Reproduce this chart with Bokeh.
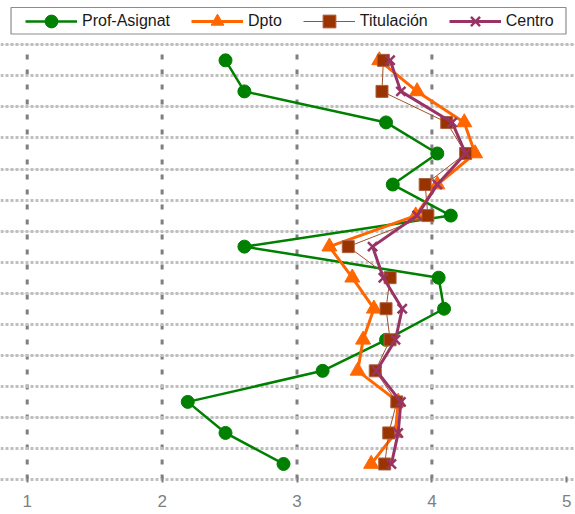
from bokeh.plotting import figure
from bokeh.models import (Range1d, FixedTicker, Legend, LegendItem, ColumnDataSource,
                          BoxAnnotation, Grid)
from bokeh.embed import file_html
from bokeh.resources import INLINE

# ---- data ----
series_names = ["Prof-Asignat", "Dpto", "Titulación", "Centro"]
prof_asignat = [2.47, 2.61, 3.66, 4.04, 3.71, 4.14, 2.61, 4.05, 4.09, 3.66, 3.19, 2.19, 2.47, 2.90]
dpto = [3.61, 3.89, 4.24, 4.32, 4.04, 3.88, 3.24, 3.41, 3.57, 3.49, 3.45, 3.75, 3.73, 3.55]
titulacion = [3.64, 3.63, 4.11, 4.25, 3.95, 3.97, 3.38, 3.69, 3.66, 3.69, 3.58, 3.74, 3.68, 3.65]
centro = [3.69, 3.77, 4.15, 4.25, 4.04, 3.89, 3.56, 3.64, 3.78, 3.73, 3.59, 3.77, 3.75, 3.70]
x_ticks = [1, 2, 3, 4, 5]
x_tick_labels = ["1", "2", "3", "4", "5"]
vgrid_values = [1, 2, 3, 4]

n_rows = len(prof_asignat)
row_pos = [n_rows - 0.5 - i for i in range(n_rows)]

FONT = "Liberation Sans"

p = figure(frame_width=575, frame_height=479, output_backend="svg", toolbar_location=None,
           x_range=Range1d(0.802, 5.0645), y_range=Range1d(0, 15.427),
           y_axis_location=None, min_border_left=0, min_border_right=0,
           min_border_top=0, min_border_bottom=35)
p.outline_line_color = None
p.background_fill_color = "white"
p.xgrid.grid_line_color = None

# horizontal dotted grid lines at row boundaries
hgrid = Grid(dimension=1, ticker=FixedTicker(ticks=list(range(n_rows + 1))),
             grid_line_color="#bfbfbf", grid_line_width=3, grid_line_dash="3 2")
p.add_layout(hgrid)

# vertical dashed lines
vsrc = ColumnDataSource(dict(x0=vgrid_values, x1=vgrid_values,
                             y0=[0] * len(vgrid_values), y1=[n_rows] * len(vgrid_values)))
p.segment("x0", "y0", "x1", "y1", source=vsrc, line_color="#7f7f7f",
          line_width=3, line_dash="5 10", level="underlay")

# x axis
ax = p.xaxis[0]
ax.ticker = FixedTicker(ticks=x_ticks)
ax.major_label_overrides = {t: l for t, l in zip(x_ticks, x_tick_labels)}
ax.axis_line_color = "#bfbfbf"
ax.axis_line_width = 3
ax.axis_line_dash = "3 2"
ax.major_tick_line_color = "#7f7f7f"
ax.major_tick_line_width = 2
ax.major_tick_in = 3
ax.major_tick_out = 3
ax.minor_tick_line_color = None
ax.major_label_text_font = FONT
ax.major_label_text_font_size = "17px"
ax.major_label_text_color = "#7f7f7f"
ax.major_label_standoff = 12

src = ColumnDataSource(dict(y=row_pos, prof=prof_asignat, dpto=dpto,
                            tit=titulacion, cen=centro))

r1l = p.line("prof", "y", source=src, line_color="#008000", line_width=2.5)
r1m = p.scatter("prof", "y", source=src, marker="circle", size=13,
                fill_color="#008000", line_color="#008000")
r2l = p.line("dpto", "y", source=src, line_color="#ff6600", line_width=3)
r2m = p.scatter("dpto", "y", source=src, marker="triangle", size=15,
                fill_color="#ff6600", line_color="#ff6600")
r3l = p.line("tit", "y", source=src, line_color="#a0522d", line_width=1)
r3m = p.scatter("tit", "y", source=src, marker="square", size=12,
                fill_color="#993300", line_color="#b06040")
r4l = p.line("cen", "y", source=src, line_color="#993366", line_width=3)
r4m = p.scatter("cen", "y", source=src, marker="x", size=13,
                line_color="#993366", line_width=2.5)

# legend frame
box = BoxAnnotation(left=0.880, right=4.994, top=15.201, bottom=14.348,
                    fill_color="white", fill_alpha=1.0, line_color="#8c8c8c",
                    line_alpha=1.0, line_width=1.2, level="annotation")
p.add_layout(box)

legend = Legend(items=[
    LegendItem(label=series_names[0], renderers=[r1l, r1m]),
    LegendItem(label=series_names[1], renderers=[r2l, r2m]),
    LegendItem(label=series_names[2], renderers=[r3l, r3m]),
    LegendItem(label=series_names[3], renderers=[r4l, r4m]),
], orientation="horizontal", location=(23, 440), margin=0, padding=2,
    glyph_width=52, glyph_height=32, label_standoff=5, spacing=21,
    label_text_font=FONT, label_text_font_size="16px", label_text_color="#1a1a1a",
    border_line_alpha=0, background_fill_alpha=0)
p.add_layout(legend)

open("out.html", "w").write(file_html(p, INLINE))
